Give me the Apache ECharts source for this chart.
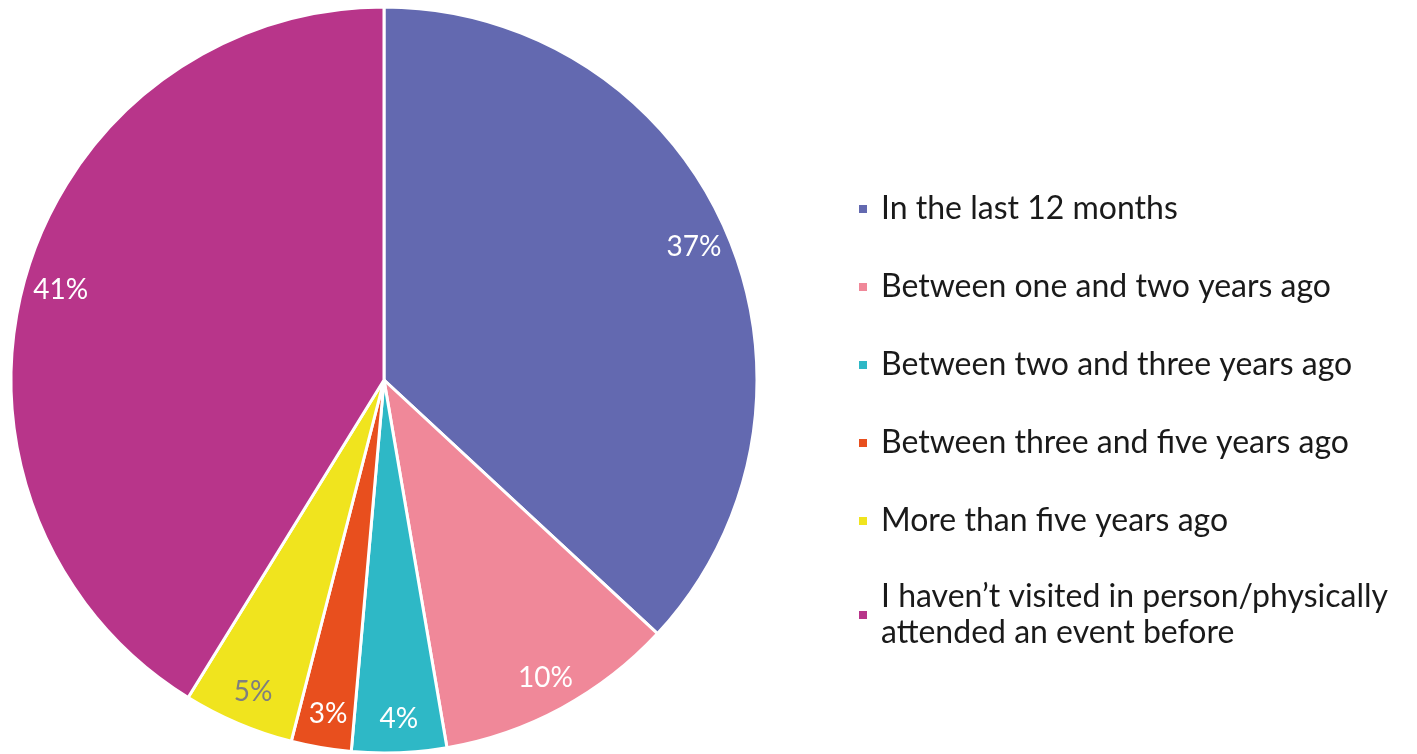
<!DOCTYPE html>
<html>
<head>
<meta charset="utf-8">
<script src="https://cdn.jsdelivr.net/npm/echarts@6/dist/echarts.min.js"></script>
<style>
  html, body { margin: 0; padding: 0; background: #fff; }
  #chart { width: 1417px; height: 754px; }
</style>
</head>
<body>
<div id="chart"></div>
<script>
// categories and shares
var categories = [
    'In the last 12 months',
    'Between one and two years ago',
    'Between two and three years ago',
    'Between three and five years ago',
    'More than five years ago',
    'I haven\u2019t visited in person/physically\nattended an event before'
]
var shares = [36.9, 10.4, 4.1, 2.6, 4.8, 41.2]
var colors = ['#6369b0', '#f08899', '#2eb8c6', '#e84f1e', '#f0e41e', '#b8358a']
var labelColors = ['#ffffff', '#ffffff', '#ffffff', '#ffffff', '#7f7f7f', '#ffffff']

var myEcharts = echarts.init(document.getElementById('chart'))

var pieData = categories.map(function (name, i) {
    return { name: name, value: shares[i], itemStyle: { color: colors[i] } }
})
// transparent ring, only used to put the labels near the rim
var labelData = categories.map(function (name, i) {
    return {
        name: name,
        value: shares[i],
        label: { color: labelColors[i] }
    }
})

var legendData = categories.map(function (name, i) {
    var item = { name: name, itemStyle: { color: colors[i] } }
    if (name.indexOf('\n') >= 0) {
        // keep the square level with the first line
        item.textStyle = { padding: [0, 0, -36, 8] }
    }
    return item
})

var option = {
    animation: false,
    legend: {
        orient: 'vertical',
        left: 852,
        top: 186,
        icon: 'rect',
        itemWidth: 10,
        itemHeight: 10,
        itemGap: 42,
        selectedMode: false,
        data: legendData,
        textStyle: {
            fontFamily: 'Lato',
            fontSize: 32,
            color: '#1a1a1a',
            lineHeight: 36,
            padding: [0, 0, 0, 8]
        }
    },
    series: [{
        name: 'visits',
        type: 'pie',
        center: [384, 380],
        radius: [0, 373],
        startAngle: 90,
        clockwise: true,
        silent: true,
        label: { show: false },
        labelLine: { show: false },
        itemStyle: {
            borderColor: '#ffffff',
            borderWidth: 3
        },
        data: pieData
    }, {
        name: 'labels',
        type: 'pie',
        center: [385, 382],
        radius: [288, 380],
        startAngle: 90,
        clockwise: true,
        silent: true,
        itemStyle: { color: 'rgba(0,0,0,0)' },
        label: {
            show: true,
            position: 'inside',
            fontFamily: 'Lato',
            fontSize: 28,
            formatter: function (p) {
                return Math.round(p.percent) + '%'
            }
        },
        labelLine: { show: false },
        data: labelData
    }]
}
myEcharts.setOption(option)
</script>
</body>
</html>
